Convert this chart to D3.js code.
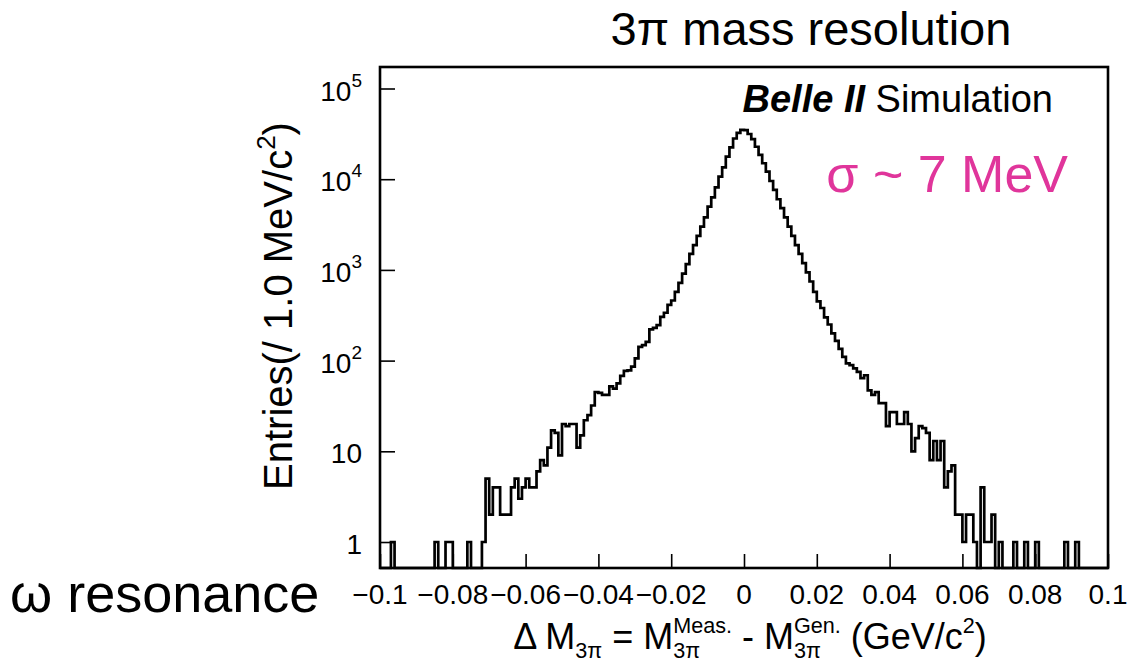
<!DOCTYPE html>
<html>
<head>
<meta charset="utf-8">
<script src="https://cdn.jsdelivr.net/npm/d3@7"></script>
<style>
  body { margin: 0; background: #fff; }
  svg text { font-family: "Liberation Sans", Arial, Helvetica, sans-serif; fill: #000; white-space: pre; }
</style>
</head>
<body>
<svg id="chart" width="1132" height="666"></svg>
<script>
// histogram: 200 bins of 1 MeV from -0.1 to 0.1 GeV
var binLow = -0.1;
var binWidth = 0.001;
var counts = [
    0, 0, 0, 1, 0, 0, 0, 0, 0, 0,
    0, 0, 0, 0, 0, 1, 0, 0, 1, 1,
    0, 0, 0, 0, 1, 0, 0, 0, 1, 5,
    2, 4, 4, 2, 2, 2, 4, 5, 3, 4,
    5, 4, 4, 6, 8, 7, 11, 17, 16, 9,
    20, 19, 20, 20, 11, 15, 22, 25, 32, 45,
    44, 42, 42, 52, 49, 56, 68, 77, 78, 86,
    106, 142, 148, 161, 221, 230, 246, 303, 337, 411,
    460, 573, 720, 912, 1160, 1500, 1880, 2370, 3000, 3800,
    4980, 6310, 8130, 10700, 13500, 17700, 22400, 28100, 32400, 35000,
    34800, 31500, 27600, 22800, 18500, 15000, 12100, 9560, 7620, 6010,
    4800, 3800, 3000, 2370, 1880, 1500, 1185, 940, 745, 573,
    450, 380, 300, 250, 200, 165, 135, 110, 93, 89,
    82, 75, 64, 69, 47, 42, 45, 34, 34, 19,
    27, 27, 20, 20, 27, 20, 10, 14, 19, 18,
    16, 8, 13, 8, 13, 4, 6, 7, 2, 2,
    1, 2, 2, 1, 0, 4, 1, 1, 2, 0,
    1, 0, 0, 0, 1, 0, 0, 1, 0, 0,
    1, 0, 0, 0, 0, 0, 0, 0, 1, 0,
    0, 1, 0, 0, 0, 0, 0, 0, 0, 0
];
var xMajorTicks = [-0.1, -0.08, -0.06, -0.04, -0.02, 0, 0.02, 0.04, 0.06, 0.08, 0.1];
var xTickLabels = ["\u22120.1", "\u22120.08", "\u22120.06", "\u22120.04", "\u22120.02", "0", "0.02", "0.04", "0.06", "0.08", "0.1"];
var yDecades = [1, 10, 100, 1000, 10000, 100000];
var yTickBase = ["1", "10", "10", "10", "10", "10"];
var yTickExp = ["", "", "2", "3", "4", "5"];

var frame = {left: 380, right: 1108, top: 67, bottom: 568};
var svg = d3.select("#chart");

var x = d3.scaleLinear().domain([-0.1, 0.1]).range([frame.left, frame.right]);
var y = d3.scaleLog().domain([0.517, 172600]).range([frame.bottom, frame.top]).clamp(true);

// histogram outline
var steps = counts.map(function(c, i) { return [binLow + i * binWidth, c]; });
steps.push([binLow + counts.length * binWidth, counts[counts.length - 1]]);

var line = d3.line()
    .x(function(d) { return x(d[0]); })
    .y(function(d) { return d[1] > 0 ? y(d[1]) : frame.bottom; })
    .curve(d3.curveStepAfter);

svg.append("path")
    .datum(steps)
    .attr("d", line)
    .attr("fill", "none")
    .attr("stroke", "#000")
    .attr("stroke-width", 2.7)
    .attr("stroke-linejoin", "miter");

// x axis ticks (pointing into the frame)
var xMinor = d3.range(-0.1, 0.1001, 0.005).filter(function(v) {
    return Math.abs(Math.round(v / 0.02) * 0.02 - v) > 1e-6;
});
var gx = svg.append("g").attr("transform", "translate(0," + frame.bottom + ")");
gx.call(d3.axisBottom(x).tickValues(xMinor).tickSize(-7).tickFormat(""));
gx.call(d3.axisBottom(x).tickValues(xMajorTicks).tickSize(-14).tickFormat(""));
gx.selectAll(".domain").remove();
gx.selectAll("line").attr("stroke", "#000").attr("stroke-width", 1.6);

svg.append("g").selectAll("text")
    .data(xMajorTicks)
    .join("text")
    .attr("x", function(d) { return x(d); })
    .attr("y", frame.bottom + 36)
    .attr("text-anchor", "middle")
    .style("font-size", "28px")
    .text(function(d, i) { return xTickLabels[i]; });

// y axis ticks
var yMinor = y.ticks().filter(function(v) { return yDecades.indexOf(v) < 0; });
var gy = svg.append("g").attr("transform", "translate(" + frame.left + ",0)");
gy.call(d3.axisLeft(y).tickValues(yMinor).tickSize(-8).tickFormat(""));
gy.call(d3.axisLeft(y).tickValues(yDecades).tickSize(-15).tickFormat(""));
gy.selectAll(".domain").remove();
gy.selectAll("line").attr("stroke", "#000").attr("stroke-width", 1.6);

var ylab = svg.append("g").selectAll("text")
    .data(yDecades)
    .join("text")
    .attr("x", 362)
    .attr("y", function(d) { return y(d) + 12; })
    .attr("text-anchor", "end")
    .style("font-size", "28px");
ylab.append("tspan").text(function(d, i) { return yTickBase[i]; });
ylab.append("tspan")
    .attr("dy", -14)
    .style("font-size", "19px")
    .text(function(d, i) { return yTickExp[i]; });

// frame
svg.append("rect")
    .attr("x", frame.left)
    .attr("y", frame.top)
    .attr("width", frame.right - frame.left)
    .attr("height", frame.bottom - frame.top)
    .attr("fill", "none")
    .attr("stroke", "#000")
    .attr("stroke-width", 2.6);

// y axis title
var yt = svg.append("text")
    .attr("transform", "translate(292,306) rotate(-90)")
    .attr("text-anchor", "middle")
    .style("font-size", "40px");
yt.append("tspan").text("Entries(/ 1.0 MeV/c");
yt.append("tspan").attr("dy", -17).style("font-size", "26px").text("2");
yt.append("tspan").attr("dy", 17).text(")");

// x axis title, laid out piece by piece so sub/superscripts can stack
function layoutPieces(g, pieces, size) {
    var cx = 0;
    pieces.forEach(function(p) {
        if (p.sup !== undefined || p.sub !== undefined) {
            var w = 0;
            if (p.sup) {
                var a = g.append("text").attr("x", cx).attr("y", -0.45 * size)
                    .style("font-size", (0.6 * size) + "px").text(p.sup);
                w = Math.max(w, a.node().getComputedTextLength());
            }
            if (p.sub) {
                var b = g.append("text").attr("x", cx).attr("y", 0.25 * size)
                    .style("font-size", (0.6 * size) + "px").text(p.sub);
                w = Math.max(w, b.node().getComputedTextLength());
            }
            cx += w;
        } else {
            var t = g.append("text").attr("x", cx).attr("y", 0)
                .style("font-size", size + "px").text(p.t);
            cx += t.node().getComputedTextLength();
        }
    });
    return cx;
}

var xt = svg.append("g");
var xtWidth = layoutPieces(xt, [
    {t: "\u0394 M"}, {sub: "3\u03c0"},
    {t: " = M"}, {sup: "Meas.", sub: "3\u03c0"},
    {t: " - M"}, {sup: "Gen.", sub: "3\u03c0"},
    {t: " (GeV/c"}, {sup: "2"}, {t: ")"}
], 36);
xt.attr("transform", "translate(" + (750 - xtWidth / 2) + ",649)");

// captions
svg.append("text")
    .attr("x", 811).attr("y", 45)
    .attr("text-anchor", "middle")
    .style("font-size", "47px")
    .text("3\u03c0 mass resolution");

svg.append("text")
    .attr("x", 10).attr("y", 612)
    .style("font-size", "54px")
    .text("\u03c9 resonance");

var belle = svg.append("text")
    .attr("x", 1053).attr("y", 112)
    .attr("text-anchor", "end")
    .style("font-size", "38px");
belle.append("tspan").style("font-weight", "bold").style("font-style", "italic").text("Belle II");
belle.append("tspan").text(" Simulation");

svg.append("text")
    .attr("x", 1068).attr("y", 192)
    .attr("text-anchor", "end")
    .style("font-size", "52px")
    .style("fill", "#e0359b")
    .text("\u03c3 ~ 7 MeV");
</script>
</body>
</html>
